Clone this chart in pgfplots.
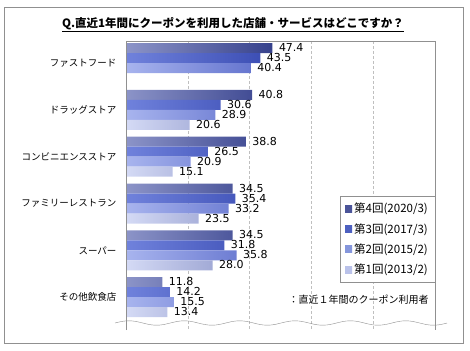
\documentclass[border=0pt]{standalone}
\usepackage{pgfplots}
\pgfplotsset{compat=1.18}
\usepackage{fontspec}
\setmainfont{Noto Sans CJK JP}
\newfontfamily\numfont{DejaVu Sans}
\definecolor{c4L}{HTML}{8C94C8}\definecolor{c4R}{HTML}{36418C}
\definecolor{c3L}{HTML}{7082DC}\definecolor{c3R}{HTML}{3D4FB5}
\definecolor{c2L}{HTML}{A8B4EE}\definecolor{c2R}{HTML}{6676CF}
\definecolor{c1L}{HTML}{D4DAF5}\definecolor{c1R}{HTML}{A2AAD6}
\definecolor{l4}{HTML}{4B5499}\definecolor{l3}{HTML}{4D60C0}
\definecolor{l2}{HTML}{8596DC}\definecolor{l1}{HTML}{BAC2EA}
\definecolor{frame}{HTML}{909090}
\begin{document}
\begin{tikzpicture}[x=1pt,y=1pt]
\path[use as bounding box] (0,0) rectangle (470,350);
\draw[frame] (4,7) rectangle (463,343);
\node[font=\fontsize{11.5}{13}\selectfont\bfseries] at (233,325) {\underline{Q.直近1年間にクーポンを利用した店舗・サービスはどこですか？}};
\begin{axis}[
  at={(126pt,20pt)}, anchor=south west,
  scale only axis, width=309pt, height=289pt,
  xmin=0, xmax=100, ymin=-0.47, ymax=5.7, y dir=reverse,
  xtick={20,40,60,80}, xticklabels={},
  xmajorgrids, major grid style={densely dashed, color=black!25},
  ytick={0,1,2,3,4,5},
  yticklabels={ファストフード,ドラッグストア,コンビニエンスストア,ファミリーレストラン,スーパー,その他飲食店},
  yticklabel style={font=\fontsize{9.5}{11}\selectfont, xshift=-6pt},
  major tick length=0pt,
  axis line style={draw=none},
  xbar, bar width=10pt,
  nodes near coords,
  nodes near coords style={font=\numfont\fontsize{11}{11}\selectfont, anchor=west, xshift=3pt, yshift=0.5pt, inner ysep=0pt, text=black},
  point meta=explicit symbolic,
  legend style={at={(1,0.165)}, anchor=south east, draw=frame, font=\fontsize{11.5}{13}\selectfont, row sep=5pt, inner xsep=5pt, inner ysep=5pt, cells={anchor=west}},
  legend cell align=left,
]
\addplot[draw=none, left color=c4L, right color=c4R, bar shift=15pt,
  legend image code/.code={\fill[left color=l4, right color=l4] (2pt,-3.5pt) rectangle (9pt,3.5pt);}]
  coordinates {(47.4,0) [47.4] (40.8,1) [40.8] (38.8,2) [38.8] (34.5,3) [34.5] (34.5,4) [34.5] (11.8,5) [11.8]};
\addplot[draw=none, left color=c3L, right color=c3R, bar shift=5pt,
  legend image code/.code={\fill[left color=l3, right color=l3] (2pt,-3.5pt) rectangle (9pt,3.5pt);}]
  coordinates {(43.5,0) [43.5] (30.6,1) [30.6] (26.5,2) [26.5] (35.4,3) [35.4] (31.8,4) [31.8] (14.2,5) [14.2]};
\addplot[draw=none, left color=c2L, right color=c2R, bar shift=-5pt,
  legend image code/.code={\fill[left color=l2, right color=l2] (2pt,-3.5pt) rectangle (9pt,3.5pt);}]
  coordinates {(40.4,0) [40.4] (28.9,1) [28.9] (20.9,2) [20.9] (33.2,3) [33.2] (35.8,4) [35.8] (15.5,5) [15.5]};
\addplot[draw=none, left color=c1L, right color=c1R, bar shift=-15pt,
  legend image code/.code={\fill[left color=l1, right color=l1] (2pt,-3.5pt) rectangle (9pt,3.5pt);}]
  coordinates {(20.6,1) [20.6] (15.1,2) [15.1] (23.5,3) [23.5] (28.0,4) [28.0] (13.4,5) [13.4]};
\legend{第4回(2020/3),第3回(2017/3),第2回(2015/2),第1回(2013/2)}
\end{axis}
\draw[frame] (126,20) -- (126,309) -- (435,309) -- (435,20);
\draw[frame] plot[domain=115:447, samples=120, smooth] (\x, {27 + 2.2*sin((\x-115)*6.5)});
\node[anchor=west, font=\fontsize{10}{12}\selectfont] at (285,50) {：直近１年間のクーポン利用者};
\end{tikzpicture}
\end{document}
